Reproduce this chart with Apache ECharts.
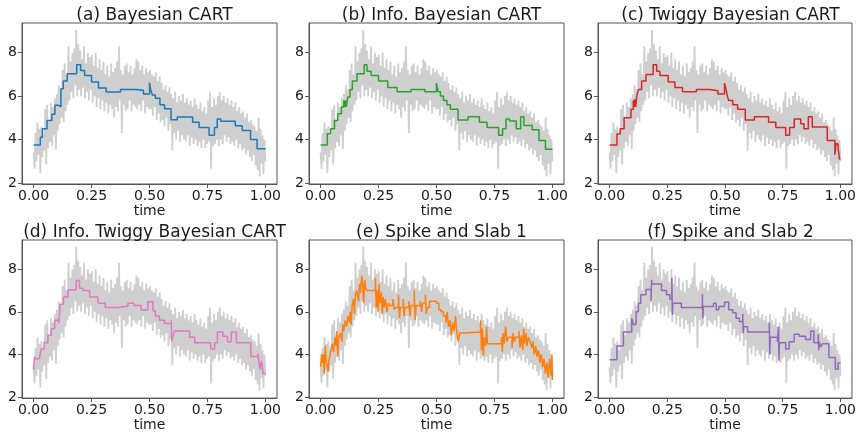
<!DOCTYPE html>
<html>
<head>
<meta charset="utf-8">
<script src="https://cdn.jsdelivr.net/npm/echarts@6/dist/echarts.min.js"></script>
<style>
html,body{margin:0;padding:0;background:#fff;}
#chart{width:859px;height:433px;}
</style>
</head>
<body>
<div id="chart"></div>
<script>
// Noisy observed signal (gray), equally spaced in time on [0, 1]
const signal = [
 3.4, 2.65, 4.3, 3.0, 4.8, 3.3, 4.5, 2.45, 4.6, 3.2, 4.2, 3.5,
 5.4, 2.85, 5.6, 3.6, 4.9, 3.9, 5.7, 3.7, 5.5, 4.2, 5.9, 3.55,
 6.1, 4.4, 6.5, 4.7, 6.3, 5.0, 7.2, 4.8, 7.5, 5.3, 7.0, 5.6,
 8.3, 5.8, 7.6, 6.2, 8.0, 5.9, 8.2, 6.5, 9.05, 6.0, 8.4, 6.3,
 8.1, 6.0, 7.7, 6.4, 8.3, 5.9, 7.5, 6.2, 8.0, 5.8, 7.8, 6.3,
 7.9, 5.7, 7.4, 6.0, 8.0, 5.5, 7.3, 5.9, 7.7, 5.4, 7.2, 5.8,
 7.6, 5.3, 7.0, 5.7, 7.4, 5.2, 6.9, 5.6, 7.5, 5.4, 7.1, 5.0,
 7.3, 5.5, 7.6, 5.3, 8.3, 5.8, 7.2, 4.3, 7.0, 5.6, 7.4, 5.3,
 7.5, 5.4, 7.1, 5.8, 7.4, 5.3, 7.0, 5.6, 7.3, 5.5, 7.7, 5.4,
 7.6, 5.6, 7.2, 5.3, 7.4, 5.8, 7.0, 5.2, 7.3, 5.5, 7.1, 5.4,
 7.2, 5.4, 7.0, 5.1, 6.9, 5.5, 7.1, 4.9, 6.7, 5.2, 6.9, 4.8,
 6.6, 4.9, 6.3, 4.6, 6.5, 5.0, 6.2, 4.4, 6.4, 4.7, 6.1, 3.5,
 5.9, 4.3, 6.2, 4.0, 5.7, 4.4, 6.0, 3.9, 5.8, 4.2, 6.1, 4.0,
 5.7, 3.9, 5.9, 4.2, 5.6, 3.7, 5.8, 4.1, 5.5, 3.8, 5.9, 4.0,
 5.6, 3.7, 5.4, 3.9, 5.7, 3.6, 5.3, 4.0, 5.5, 3.6, 5.2, 3.8,
 5.8, 3.9, 6.2, 2.65, 5.5, 3.7, 5.9, 3.8, 5.6, 4.0, 6.0, 3.7,
 6.2, 4.0, 5.8, 3.8, 6.0, 4.2, 5.7, 3.9, 5.9, 4.1, 5.6, 3.8,
 5.8, 3.9, 5.5, 3.7, 5.7, 4.0, 5.3, 3.6, 5.5, 3.8, 5.2, 3.5,
 5.3, 3.6, 5.0, 3.3, 5.2, 3.5, 4.8, 3.2, 4.9, 3.0, 4.7, 3.3,
 4.6, 2.8, 4.4, 2.6, 5.0, 2.3, 4.5, 2.9, 4.2, 2.4, 4.0, 3.0
];

// (a) Bayesian CART: step start times and levels
const tA = [0, 0.029, 0.038, 0.058, 0.079, 0.092, 0.108, 0.118, 0.128, 0.145, 0.186, 0.203, 0.22, 0.25, 0.28, 0.313, 0.375, 0.44, 0.474, 0.5, 0.505, 0.512, 0.525, 0.545, 0.565, 0.593, 0.62, 0.686, 0.714, 0.757, 0.78, 0.792, 0.807, 0.87, 0.9, 0.936, 0.964, 1.0];
const vA = [3.75, 4.1, 4.5, 4.88, 5.17, 5.58, 5.5, 6.34, 6.7, 7.03, 7.45, 7.18, 6.95, 6.65, 6.38, 6.19, 6.3, 6.27, 6.1, 6.62, 6.3, 6.05, 5.9, 5.6, 5.42, 4.91, 5.04, 4.8, 4.55, 4.2, 4.55, 4.95, 4.84, 4.64, 4.42, 4.0, 3.58, 3.58];

// (b) Info. Bayesian CART
const tB = [0, 0.029, 0.043, 0.06, 0.074, 0.09, 0.1, 0.104, 0.108, 0.111, 0.117, 0.127, 0.137, 0.157, 0.188, 0.2, 0.218, 0.25, 0.29, 0.33, 0.39, 0.45, 0.5, 0.507, 0.517, 0.53, 0.545, 0.56, 0.593, 0.636, 0.685, 0.718, 0.768, 0.785, 0.8, 0.815, 0.844, 0.863, 0.877, 0.913, 0.942, 0.97, 1.0];
const vB = [3.75, 4.27, 4.5, 4.88, 5.19, 5.5, 5.8, 5.5, 5.8, 5.5, 5.96, 6.3, 6.7, 7.03, 7.45, 7.15, 6.95, 6.7, 6.4, 6.2, 6.3, 6.2, 6.6, 6.2, 6.0, 5.8, 5.6, 5.4, 4.9, 5.05, 4.8, 4.55, 4.2, 4.5, 4.95, 4.85, 4.5, 5.05, 4.65, 4.45, 3.95, 3.55, 3.55];

// (c) Twiggy Bayesian CART
const tC = [0, 0.032, 0.046, 0.063, 0.093, 0.103, 0.107, 0.11, 0.113, 0.118, 0.125, 0.139, 0.158, 0.189, 0.204, 0.218, 0.254, 0.283, 0.316, 0.376, 0.433, 0.469, 0.498, 0.505, 0.51, 0.516, 0.534, 0.555, 0.588, 0.627, 0.689, 0.72, 0.763, 0.78, 0.8, 0.828, 0.842, 0.861, 0.878, 0.943, 0.976, 0.981, 0.99, 0.996, 1.0];
const vC = [3.75, 4.25, 4.5, 5.0, 5.4, 5.8, 5.5, 5.85, 5.5, 6.0, 6.3, 6.7, 7.0, 7.45, 7.15, 6.95, 6.65, 6.4, 6.2, 6.3, 6.25, 6.1, 6.6, 6.3, 6.0, 5.8, 5.6, 5.4, 4.9, 5.05, 4.8, 4.55, 4.2, 4.55, 4.95, 4.73, 4.5, 5.05, 4.58, 3.96, 3.3, 3.8, 3.6, 3.1, 3.1];

// (d) Info. Twiggy Bayesian CART
const tD = [0, 0.004, 0.006, 0.026, 0.033, 0.045, 0.062, 0.076, 0.091, 0.108, 0.115, 0.129, 0.148, 0.184, 0.198, 0.213, 0.242, 0.278, 0.309, 0.371, 0.407, 0.433, 0.464, 0.493, 0.515, 0.525, 0.543, 0.565, 0.594, 0.596, 0.6, 0.608, 0.673, 0.695, 0.764, 0.781, 0.793, 0.817, 0.836, 0.853, 0.875, 0.937, 0.968, 0.976, 0.983, 0.99, 1.0];
const vD = [3.3, 3.9, 3.8, 3.9, 4.25, 4.55, 4.9, 5.2, 5.6, 5.45, 6.36, 6.7, 7.04, 7.47, 7.1, 7.0, 6.7, 6.4, 6.2, 6.27, 6.4, 6.3, 6.09, 6.47, 6.05, 5.8, 5.6, 5.45, 5.6, 4.6, 4.8, 5.1, 4.8, 4.55, 4.25, 4.55, 5.05, 4.85, 4.6, 5.05, 4.55, 3.9, 4.05, 3.3, 3.7, 3.1, 3.1];

// (e) Spike and Slab 1
const tE = [0, 0.004, 0.008, 0.012, 0.016, 0.02, 0.024, 0.032, 0.036, 0.044, 0.05, 0.056, 0.062, 0.066, 0.07, 0.074, 0.078, 0.086, 0.092, 0.096, 0.1, 0.106, 0.112, 0.118, 0.124, 0.128, 0.132, 0.136, 0.142, 0.146, 0.15, 0.156, 0.164, 0.168, 0.172, 0.178, 0.182, 0.186, 0.19, 0.194, 0.2, 0.236, 0.24, 0.244, 0.248, 0.252, 0.256, 0.262, 0.266, 0.27, 0.274, 0.28, 0.286, 0.292, 0.3, 0.312, 0.318, 0.324, 0.336, 0.34, 0.344, 0.356, 0.36, 0.364, 0.38, 0.386, 0.39, 0.404, 0.408, 0.412, 0.43, 0.436, 0.44, 0.452, 0.456, 0.46, 0.47, 0.5, 0.51, 0.52, 0.53, 0.54, 0.546, 0.552, 0.558, 0.564, 0.57, 0.576, 0.582, 0.588, 0.594, 0.6, 0.62, 0.69, 0.694, 0.698, 0.702, 0.706, 0.712, 0.716, 0.72, 0.78, 0.784, 0.788, 0.792, 0.798, 0.804, 0.81, 0.826, 0.83, 0.836, 0.84, 0.856, 0.86, 0.866, 0.872, 0.876, 0.88, 0.886, 0.89, 0.896, 0.904, 0.912, 0.916, 0.922, 0.928, 0.934, 0.94, 0.946, 0.952, 0.958, 0.964, 0.97, 0.976, 0.982, 0.988, 0.994, 0.998, 1.0];
const vE = [3.4, 4.0, 3.6, 4.0, 3.1, 4.4, 3.7, 3.2, 3.7, 4.2, 4.5, 4.1, 4.8, 4.4, 5.1, 3.9, 4.8, 5.0, 4.6, 5.4, 5.1, 5.6, 5.3, 5.8, 5.5, 6.0, 5.4, 6.3, 6.6, 5.9, 6.8, 7.0, 6.5, 7.3, 6.9, 7.7, 7.2, 6.4, 7.5, 7.1, 7.0, 7.6, 6.2, 7.0, 6.0, 7.3, 6.4, 6.9, 5.9, 6.7, 6.2, 6.6, 6.0, 6.4, 6.3, 6.6, 6.1, 6.2, 6.8, 5.7, 6.2, 6.6, 5.8, 6.2, 6.5, 5.8, 6.3, 7.0, 5.6, 6.3, 6.5, 6.0, 6.4, 6.8, 5.9, 6.2, 6.5, 6.4, 6.1, 6.0, 5.8, 5.5, 6.0, 5.3, 5.6, 4.9, 5.5, 5.1, 5.8, 5.0, 4.6, 5.0, 5.05, 5.6, 4.2, 5.2, 3.9, 4.8, 4.4, 5.3, 4.5, 4.8, 4.1, 5.0, 4.5, 5.3, 4.6, 4.8, 4.3, 5.0, 4.6, 4.8, 5.1, 4.3, 4.9, 4.2, 5.2, 4.5, 5.0, 4.4, 4.8, 4.6, 4.3, 4.6, 4.0, 4.4, 3.9, 4.2, 3.6, 4.0, 3.4, 3.8, 3.1, 3.6, 2.9, 3.8, 3.0, 4.0, 2.8];

// (f) Spike and Slab 2
const tF = [0, 0.032, 0.06, 0.096, 0.103, 0.115, 0.125, 0.135, 0.158, 0.18, 0.182, 0.184, 0.225, 0.247, 0.261, 0.27, 0.272, 0.274, 0.311, 0.402, 0.404, 0.406, 0.45, 0.462, 0.473, 0.498, 0.516, 0.534, 0.548, 0.562, 0.577, 0.579, 0.581, 0.598, 0.692, 0.694, 0.696, 0.727, 0.732, 0.734, 0.736, 0.763, 0.778, 0.8, 0.821, 0.849, 0.871, 0.885, 0.904, 0.906, 0.908, 0.915, 0.922, 0.95, 0.978, 0.99, 1.0];
const vF = [3.75, 4.4, 5.05, 5.7, 5.4, 6.0, 6.4, 6.8, 7.05, 6.5, 7.5, 7.3, 7.0, 6.8, 6.6, 7.6, 5.85, 6.4, 6.2, 6.85, 5.7, 6.25, 6.4, 6.1, 6.25, 6.45, 6.1, 5.95, 5.7, 5.55, 5.9, 5.0, 5.3, 5.05, 5.5, 4.0, 4.8, 4.6, 5.3, 3.7, 4.55, 4.25, 4.6, 4.95, 4.85, 4.7, 5.1, 4.55, 4.95, 4.2, 4.6, 4.35, 4.5, 3.85, 3.3, 3.6, 3.6];

const titles = ['(a) Bayesian CART', '(b) Info. Bayesian CART', '(c) Twiggy Bayesian CART',
                '(d) Info. Twiggy Bayesian CART', '(e) Spike and Slab 1', '(f) Spike and Slab 2'];
const xTicks = [0, 0.25, 0.5, 0.75, 1.0];
const yTicks = [2, 4, 6, 8];
const stepSets = [[tA, vA], [tB, vB], [tC, vC], [tD, vD], [tE, vE], [tF, vF]];
const colors = ['#1f77b4', '#2ca02c', '#d62728', '#e377c2', '#ff7f0e', '#9467bd'];

const panels = [
  {left: 22, top: 23}, {left: 309, top: 23}, {left: 598, top: 23},
  {left: 22, top: 240}, {left: 309, top: 240}, {left: 598, top: 240}
];
const W = 255, H = 161;
const FONT = 'DejaVu Sans';
const axisColor = '#555';

const sigData = signal.map((v, i) => [i / (signal.length - 1), v]);

const option = {
  backgroundColor: '#fff',
  animation: false,
  title: titles.map((t, i) => ({
    text: t,
    left: panels[i].left + W / 2,
    top: panels[i].top - 21,
    textAlign: 'center',
    textStyle: {fontFamily: FONT, fontSize: 17, fontWeight: 'normal', color: '#1a1a1a'}
  })),
  grid: panels.map(p => ({
    left: p.left, top: p.top, width: W, height: H,
    show: true, borderColor: axisColor, borderWidth: 1, backgroundColor: 'transparent'
  })),
  xAxis: panels.map((p, i) => ({
    type: 'value', gridIndex: i, min: -0.05, max: 1.05,
    name: 'time', nameLocation: 'middle', nameGap: 17,
    nameTextStyle: {fontFamily: FONT, fontSize: 14, color: '#1a1a1a'},
    splitLine: {show: false},
    axisLine: {show: true, onZero: false, lineStyle: {color: axisColor, width: 1}},
    axisTick: {show: true, inside: false, length: 4, customValues: xTicks, lineStyle: {color: axisColor}},
    axisLabel: {customValues: xTicks, margin: 5, fontFamily: FONT, fontSize: 14, color: '#1a1a1a',
      formatter: v => v.toFixed(2)}
  })),
  yAxis: panels.map((p, i) => ({
    type: 'value', gridIndex: i, min: 1.95, max: 9.37,
    splitLine: {show: false},
    axisLine: {show: true, onZero: false, lineStyle: {color: axisColor, width: 1}},
    axisTick: {show: true, inside: false, length: 4, customValues: yTicks, lineStyle: {color: axisColor}},
    axisLabel: {customValues: yTicks, margin: 5, fontFamily: FONT, fontSize: 14, color: '#1a1a1a',
      formatter: v => String(v)}
  })),
  series: []
};

panels.forEach((p, i) => {
  option.series.push({
    type: 'line', xAxisIndex: i, yAxisIndex: i, data: sigData,
    showSymbol: false, silent: true,
    lineStyle: {color: '#cfcfcf', width: 1.8}, z: 2
  });
  const [ts, vs] = stepSets[i];
  option.series.push({
    type: 'line', xAxisIndex: i, yAxisIndex: i, step: 'end',
    data: ts.map((t, k) => [t, vs[k]]),
    showSymbol: false, silent: true,
    lineStyle: {color: colors[i], width: 1.5}, z: 3
  });
});

const chart = echarts.init(document.getElementById('chart'), null, {renderer: 'canvas'});
chart.setOption(option);
</script>
</body>
</html>
